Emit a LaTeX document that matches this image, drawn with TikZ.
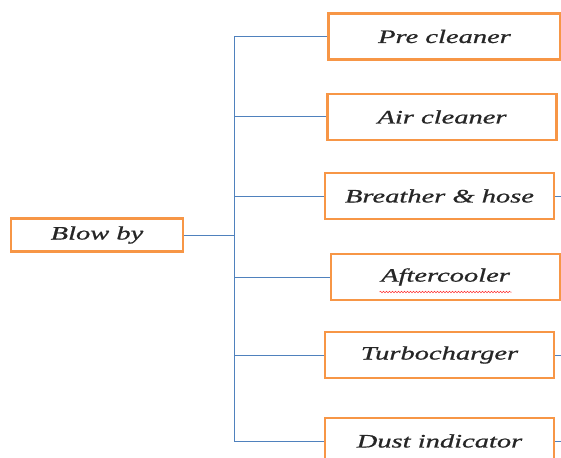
\documentclass[tikz,border=0pt]{standalone}
\usepackage{fontspec}
\usepackage{xcolor}
\usetikzlibrary{decorations.pathmorphing}
\newfontfamily\boxfont[FakeStretch=1.5,FakeBold=0.8]{Liberation Serif}
\definecolor{boxorange}{RGB}{247,150,70}
\definecolor{lineblue}{RGB}{79,129,189}
\def\spinex{234}

\begin{document}
\begin{tikzpicture}[x=1pt,y=-1pt]
    \tikzstyle{item}=[draw=boxorange,line width=2.6pt,fill=white,inner sep=0pt,
        minimum width=229pt,minimum height=46pt,text=black!85,
        font=\boxfont\itshape\fontsize{19}{22}\selectfont]
    \tikzstyle{root item}=[item,minimum width=172pt,minimum height=33pt]
    \tikzstyle{link}=[draw=lineblue,line width=1pt]

    \clip (0,0) rectangle (561,457);

    % Draw the root node
    \node[root item] (blow) at (97,235) {Blow by};

    % Draw the child nodes
    \node[item,minimum width=232pt] (C-1) at (444.5,36.5) {Pre cleaner};
    \node[item] (C-2) at (442,117) {Air cleaner};
    \node[item] (C-3) at (439.5,196) {Breather \& hose};
    \node[item] (C-4) at (445.5,277) {Aftercooler};
    \node[item] (C-5) at (439.5,355) {Turbocharger};
    \node[item] (C-6) at (439.5,441) {Dust indicator};

    \coordinate (spine) at (\spinex,0);
    \coordinate (edge) at (561,0);

    % Connect the root with the spine and the spine with every child
    \path[link] (blow.east) edge (blow.east -| spine);
    \path[link] (C-1.west -| spine) edge (C-6.west -| spine);
    \foreach \dest in {1,...,6}
        \path[link] (C-\dest.west -| spine) edge (C-\dest.west);

    % Stubs leaving on the right
    \foreach \source in {3,5,6}
        \path[link] (C-\source.east) edge (C-\source.east -| edge);

    % Spell check mark
    \draw[red!80,line width=0.5pt,decorate,decoration={snake,amplitude=0.8pt,segment length=3pt}]
        ([xshift=-66pt,yshift=-15pt]C-4.center) -- ([xshift=66pt,yshift=-15pt]C-4.center);
\end{tikzpicture}
\end{document}
